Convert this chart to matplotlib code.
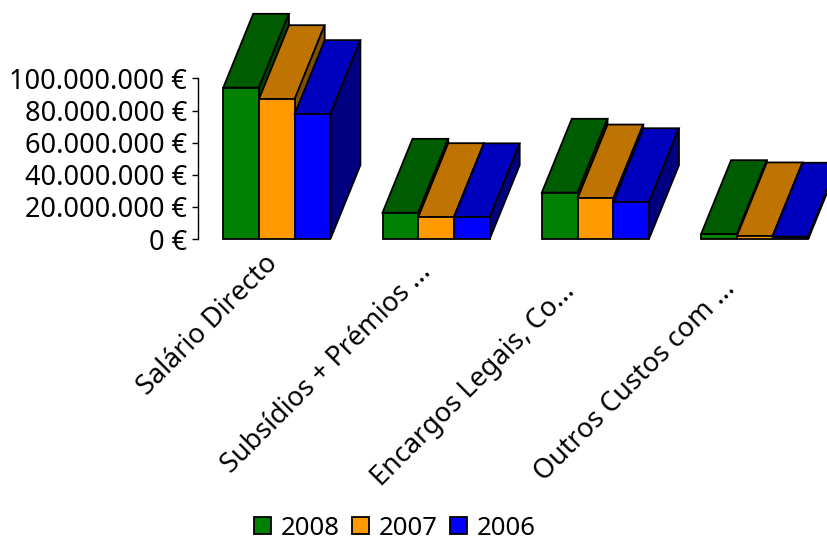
import matplotlib
matplotlib.use('Agg')
import matplotlib.pyplot as plt
from matplotlib.patches import Polygon, Patch
from matplotlib.ticker import FuncFormatter
from matplotlib.transforms import ScaledTranslation

plt.rcParams['font.family'] = ['Noto Sans', 'DejaVu Sans']

# dados
categorias = ['Salário Directo', 'Subsídios + Prémios ...', 'Encargos Legais, Co...', 'Outros Custos com ...']
anos = ['2008', '2007', '2006']
valores_2008 = [94300000, 16400000, 28900000, 3100000]
valores_2007 = [87200000, 13700000, 25300000, 1700000]
valores_2006 = [77900000, 13600000, 23000000, 1500000]
ticks_y = [0, 20000000, 40000000, 60000000, 80000000, 100000000]

cores_frente = ['#008000', '#ff9900', '#0000ff']
cores_topo = ['#005c00', '#bf7300', '#0000bf']
cores_lado = ['#004000', '#805000', '#000080']

largura = 0.2243        # largura de cada barra
prof_x = 0.1883         # deslocamento da profundidade em x
prof_y = 46000000       # deslocamento da profundidade em y

fig = plt.figure(figsize=(8.27, 5.41), dpi=100)
ax = fig.add_axes([197.5 / 827, (541 - 239) / 541, (827 - 197.5) / 827, 239 / 541])
ax.set_xlim(-0.498, 3.454)
ax.set_ylim(0, 148900000)
ax.patch.set_visible(False)


def desenhar_barra(x, v, i):
    esq, dir = x, x + largura
    estilo = dict(edgecolor='black', linewidth=1.3, joinstyle='miter', clip_on=False)
    ax.add_patch(Polygon([(esq, v), (dir, v), (dir + prof_x, v + prof_y), (esq + prof_x, v + prof_y)],
                         facecolor=cores_topo[i], **estilo))
    ax.add_patch(Polygon([(dir, 0), (dir + prof_x, prof_y), (dir + prof_x, v + prof_y), (dir, v)],
                         facecolor=cores_lado[i], **estilo))
    ax.add_patch(Polygon([(esq, 0), (dir, 0), (dir, v), (esq, v)],
                         facecolor=cores_frente[i], **estilo))


series = [valores_2008, valores_2007, valores_2006]
for c in range(len(categorias)):
    for i, serie in enumerate(series):
        desenhar_barra(c - 1.5 * largura + i * largura, serie[c], i)

# eixos
for lado in ['top', 'right', 'bottom']:
    ax.spines[lado].set_visible(False)
ax.spines['left'].set_bounds(0, 100000000)
ax.spines['left'].set_linewidth(1.0)
ax.set_yticks(ticks_y)
ax.yaxis.set_major_formatter(FuncFormatter(lambda v, p: f'{int(v):,}'.replace(',', '.') + ' €'))
ax.tick_params(axis='y', length=4, width=1.0, pad=3.4, labelsize=19.5, labelcolor='black')
ax.set_xticks(range(len(categorias)))
ax.set_xticklabels(categorias, rotation=45, ha='right', rotation_mode='anchor', fontsize=19.5)
ax.tick_params(axis='x', length=0, pad=12)

# ajuste dos rotulos em pontos
desvios = [(-9.5, 4), (-13.5, -2), (-25, -16), (-24, -14)]
for rotulo, (dx, dy) in zip(ax.get_xticklabels(), desvios):
    rotulo.set_transform(rotulo.get_transform() + ScaledTranslation(dx / 72, dy / 72, fig.dpi_scale_trans))

# legenda
handles = [Patch(facecolor=cores_frente[i], edgecolor='black', linewidth=1.3, label=anos[i]) for i in range(3)]
fig.legend(handles=handles, loc='lower center', bbox_to_anchor=(395 / 827, -0.042), ncol=3, frameon=False,
           fontsize=18.5, handlelength=0.66, handleheight=0.66, handletextpad=0.39, columnspacing=0.47)

fig.savefig('out.png', dpi=100)
